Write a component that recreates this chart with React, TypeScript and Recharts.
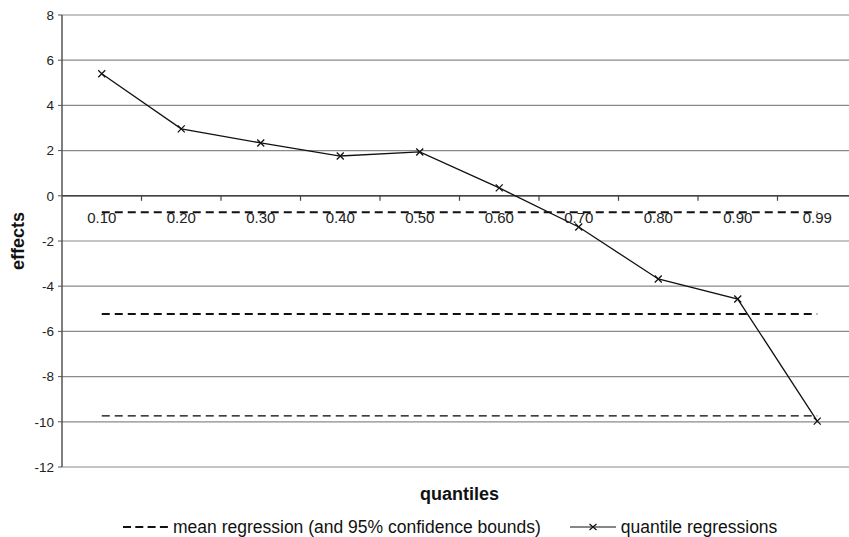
import { CartesianGrid, Line, LineChart, ReferenceLine, XAxis, YAxis } from 'recharts';

const quantiles = ['0.10', '0.20', '0.30', '0.40', '0.50', '0.60', '0.70', '0.80', '0.90', '0.99'];
const quantileEffects = [5.4, 2.96, 2.34, 1.76, 1.94, 0.35, -1.38, -3.68, -4.57, -9.97];
const meanUpper = -0.73;
const meanEstimate = -5.23;
const meanLower = -9.74;
const yTicks = [-12, -10, -8, -6, -4, -2, 0, 2, 4, 6, 8];

const FONT = '"Liberation Sans", Arial, sans-serif';
const W = 860;
const H = 537;
const M = { top: 15, right: 3, bottom: 30, left: 0 };
const Y_AXIS_W = 62;
const X_AXIS_H = 40;
const PLOT_H = H - M.top - M.bottom - X_AXIS_H;
const PLOT_W = W - M.left - M.right - Y_AXIS_W;
const BAND = PLOT_W / quantiles.length;
// pixel row of y = 0 (axis sits there, like the original)
const ZERO_Y = M.top + (PLOT_H * 8) / 20;

const data = quantiles.map((q, i) => ({
  q,
  qr: quantileEffects[i],
  hi: meanUpper,
  mid: meanEstimate,
  lo: meanLower,
}));

function ZeroTick({ x, payload }: { x?: number; payload?: { value: string } }) {
  if (x == null || !payload) return null;
  return (
    <g>
      <line x1={x + BAND / 2} x2={x + BAND / 2} y1={ZERO_Y} y2={ZERO_Y + 5} stroke="#444" strokeWidth={1.2} />
      <text x={x} y={ZERO_Y + 27} textAnchor="middle" fontSize={15} fill="#222" fontFamily={FONT}>
        {payload.value}
      </text>
    </g>
  );
}

function CrossDot({ cx, cy }: { cx?: number; cy?: number }) {
  if (cx == null || cy == null) return null;
  const s = 3.5;
  return (
    <path d={`M${cx - s},${cy - s}L${cx + s},${cy + s}M${cx - s},${cy + s}L${cx + s},${cy - s}`} stroke="#111" strokeWidth={1.3} />
  );
}

export default function App() {
  return (
    <div style={{ position: 'absolute', left: 0, top: 0, width: 849, height: 537, overflow: 'hidden', background: '#fff', fontFamily: FONT }}>
      <LineChart width={W} height={H} data={data} margin={M}>
        <CartesianGrid horizontal vertical={false} stroke="#8a8a8a" strokeWidth={1.2} />
        <XAxis
          dataKey="q"
          height={X_AXIS_H}
          axisLine={false}
          tickLine={false}
          interval={0}
          padding={{ left: BAND / 2, right: BAND / 2 }}
          tick={<ZeroTick />}
          label={{
            content: ({ viewBox }: any) => (
              <text x={viewBox.x + viewBox.width / 2} y={viewBox.y + 33} textAnchor="middle" fontSize={18} fontWeight="bold" fill="#111" fontFamily={FONT}>
                quantiles
              </text>
            ),
          }}
        />
        <YAxis
          type="number"
          domain={[-12, 8]}
          ticks={yTicks}
          width={Y_AXIS_W}
          axisLine={{ stroke: '#555', strokeWidth: 1.5 }}
          tickLine={{ stroke: '#555' }}
          tickSize={4}
          tickMargin={4}
          tick={{ fontSize: 13.5, fill: '#222', fontFamily: FONT }}
          label={{
            content: ({ viewBox }: any) => {
              const cx = viewBox.x + 18;
              const cy = viewBox.y + viewBox.height / 2;
              return (
                <text x={cx} y={cy} transform={`rotate(-90 ${cx} ${cy})`} textAnchor="middle" dominantBaseline="central" fontSize={18} fontWeight="bold" fill="#111" fontFamily={FONT}>
                  effects
                </text>
              );
            },
          }}
        />
        <ReferenceLine y={0} stroke="#444" strokeWidth={1.4} />
        <Line dataKey="hi" stroke="#111" strokeWidth={2} strokeDasharray="8 5" dot={false} isAnimationActive={false} />
        <Line dataKey="mid" stroke="#111" strokeWidth={2} strokeDasharray="8 5" dot={false} isAnimationActive={false} />
        <Line dataKey="lo" stroke="#000" strokeWidth={1.2} strokeDasharray="8 5" dot={false} isAnimationActive={false} />
        <Line dataKey="qr" stroke="#111" strokeWidth={1.3} dot={<CrossDot />} isAnimationActive={false} />
      </LineChart>
      <div
        style={{
          position: 'absolute',
          top: 515,
          left: 0,
          width: 849,
          display: 'flex',
          alignItems: 'center',
          fontSize: 17.5,
          lineHeight: '24px',
          color: '#111',
          whiteSpace: 'nowrap',
        }}
      >
        <svg width={45} height={10} style={{ marginLeft: 123, marginRight: 5 }}>
          <line x1={0} x2={45} y1={5} y2={5} stroke="#111" strokeWidth={2} strokeDasharray="8 4.3" />
        </svg>
        <span>mean regression (and 95% confidence bounds)</span>
        <svg width={46} height={10} style={{ marginLeft: 29, marginRight: 5 }}>
          <line x1={0} x2={46} y1={5} y2={5} stroke="#111" strokeWidth={1.2} />
          <path d="M19.5,2L26.5,8M19.5,8L26.5,2" stroke="#111" strokeWidth={1.2} />
        </svg>
        <span>quantile regressions</span>
      </div>
    </div>
  );
}
